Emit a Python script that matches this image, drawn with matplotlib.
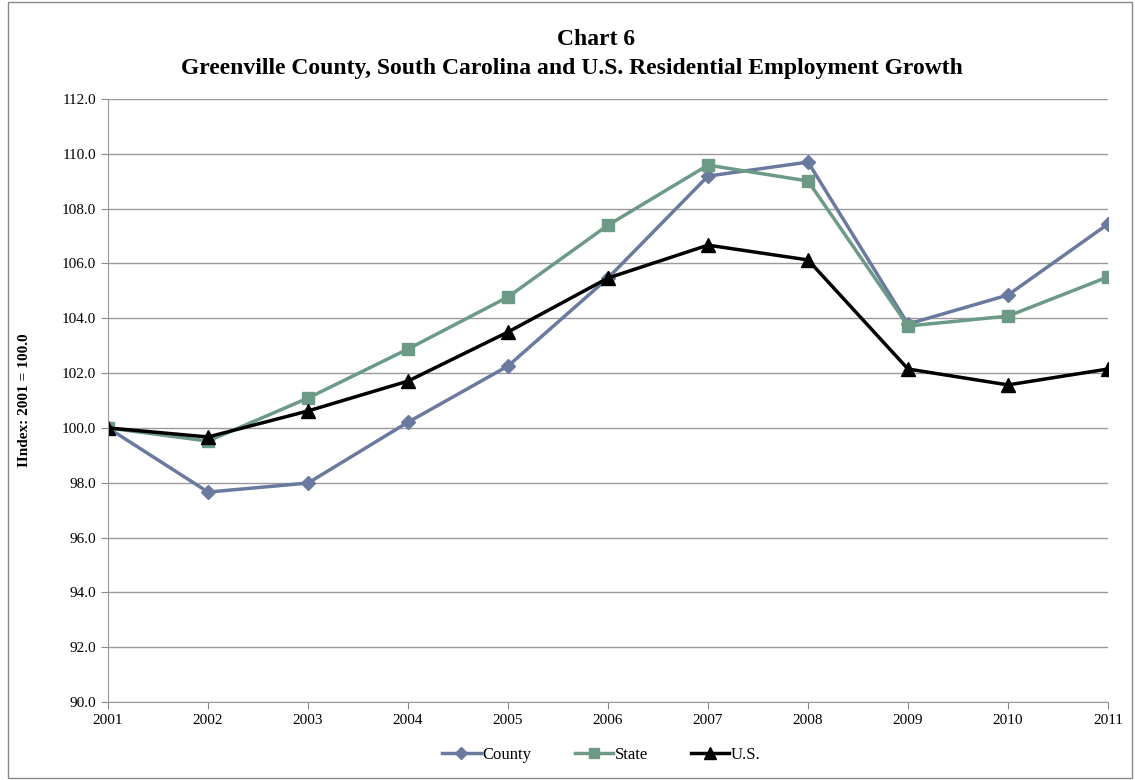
import matplotlib
matplotlib.use("Agg")
import matplotlib.pyplot as plt
from matplotlib.patches import Rectangle

years = [2001, 2002, 2003, 2004, 2005, 2006, 2007, 2008, 2009, 2010, 2011]
county = [100.0, 97.66, 97.99, 100.21, 102.26, 105.47, 109.19, 109.70, 103.79, 104.85, 107.44]
state = [100.0, 99.52, 101.09, 102.88, 104.78, 107.40, 109.59, 109.01, 103.72, 104.08, 105.51]
us = [100.0, 99.67, 100.62, 101.71, 103.50, 105.47, 106.67, 106.13, 102.15, 101.57, 102.15]
y_ticks = [90, 92, 94, 96, 98, 100, 102, 104, 106, 108, 110, 112]

plt.rcParams['font.family'] = ['Liberation Serif', 'DejaVu Serif']

fig = plt.figure(figsize=(11.35, 7.8), dpi=100)
ax = fig.add_axes([0.0952, 0.1, 0.881, 0.773])

ax.plot(years, county, color='#6A7A9E', marker='D', markersize=7, linewidth=2.5, label='County')
ax.plot(years, state, color='#6C9A87', marker='s', markersize=9, linewidth=2.5, label='State')
ax.plot(years, us, color='black', marker='^', markersize=10, linewidth=2.5, label='U.S.')

ax.set_xlim(2001, 2011)
ax.set_ylim(90, 112)
ax.set_xticks(years)
ax.set_yticks(y_ticks)
ax.set_yticklabels([f'{v:.1f}' for v in y_ticks])
ax.tick_params(labelsize=11, color='#888888', length=5)
ax.grid(axis='y', color='#999999', linewidth=1)
ax.set_axisbelow(True)
for side in ['top', 'right']:
    ax.spines[side].set_visible(False)
for side in ['left', 'bottom']:
    ax.spines[side].set_color('#999999')

ax.set_ylabel('IIndex: 2001 = 100.0', fontsize=11, fontweight='bold', labelpad=22)
fig.text(0.525, 0.949, 'Chart 6', ha='center', va='center', fontsize=17, fontweight='bold')
fig.text(0.504, 0.912, 'Greenville County, South Carolina and U.S. Residential Employment Growth',
         ha='center', va='center', fontsize=17, fontweight='bold')

leg = fig.legend(loc='center', bbox_to_anchor=(0.53, 0.032), ncol=3, frameon=False,
                 fontsize=12, handlelength=2.3, columnspacing=2.6, handletextpad=0.1,
                 markerscale=0.85)

fig.patches.append(Rectangle((0.007, 0.003), 0.99, 0.994, transform=fig.transFigure,
                             fill=False, edgecolor='#888888', linewidth=1))

fig.savefig('out.png', dpi=100)
